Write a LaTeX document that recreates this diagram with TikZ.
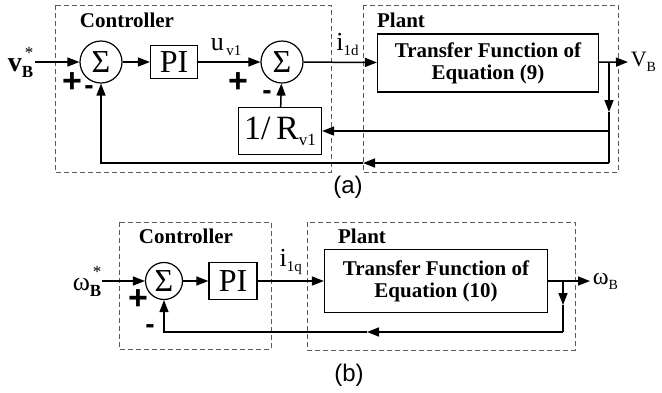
\documentclass[tikz,border=0pt]{standalone}
\usepackage{fontspec}
\setmainfont{Liberation Serif}
\newfontfamily\arialfont{Liberation Sans}
\usetikzlibrary{arrows.meta, positioning}

\newcommand{\fsz}[1]{\fontsize{#1}{#1}\selectfont}

\begin{document}
\begin{tikzpicture}[x=1pt, y=-1pt, line width=1.5pt,
    sumnode/.style={circle, draw, line width=1.2pt, minimum size=42pt, inner sep=0pt, font=\fsz{32}},
    block/.style={rectangle, draw, line width=1.2pt, align=center, inner sep=0pt},
    group/.style={draw=black!65, line width=0.9pt, dash pattern=on 5pt off 3pt},
    arrow/.style={-{Triangle[length=12pt, width=9pt]}},
    title/.style={font=\bfseries\fsz{21}},
    plus/.style={font=\arialfont\bfseries\fsz{34}, inner sep=0pt, text height=20pt, text depth=0pt},
    minus/.style={font=\arialfont\bfseries\fsz{28}, inner sep=0pt, text height=13pt, text depth=0pt},
    lbl/.style={inner sep=0pt}
  ]
    \useasboundingbox (0,0) rectangle (662,392);

    % (a) voltage loop
    \draw[group] (55,5) rectangle (331,172);
    \draw[group] (363,5) rectangle (618,172);
    \node[title] (ctrlA) at (127,20) {Controller};
    \node[title] (plantA) at (401,20) {Plant};

    \node[sumnode] (sumA1) at (101,62) {Σ};
    \node[block, minimum width=47pt, minimum height=33pt, font=\fsz{32}] (piA) at (174,62) {PI};
    \node[sumnode] (sumA2) at (282,62) {Σ};
    \node[block, minimum width=221pt, minimum height=58pt, font=\bfseries\fsz{21}] (tfA) at (488,63) {Transfer Function of\\[1pt]Equation (9)};
    \node[block, minimum width=83pt, minimum height=47pt] (rA) at (280,131) {{\fsz{34}1/\,R}\raisebox{-6pt}{\fsz{17}v1}};

    \coordinate (inA) at (35,62);
    \coordinate (brA) at (609,62);
    \coordinate (outA) at (628,62);
    \coordinate (dnA) at (609,112);
    \coordinate (fbA) at (609,131);
    \coordinate (btA) at (609,163);
    \coordinate (midA) at (363,163);
    \node[lbl, left=1pt of inA] (refA) {{\fsz{28}\bfseries v}\raisebox{-6pt}{\fsz{17}\bfseries B}\llap{\raisebox{13pt}{\fsz{17}*}}};
    \node[lbl, right=2pt of outA] (yA) {{\fsz{22}V}\raisebox{-5pt}{\fsz{14}B}};

    \draw[arrow] (inA) -- (sumA1);
    \draw[arrow] (sumA1) -- (piA);
    \draw[arrow] (piA) -- node[lbl, above=6pt, pos=0.45] (uA) {{\fsz{26}u}\raisebox{-5pt}{\fsz{15}\,v1}} (sumA2);
    \draw[arrow] (sumA2) -- node[lbl, above=6pt, pos=0.6] (iA) {{\fsz{26}i}\raisebox{-5pt}{\fsz{15}1d}} (tfA);
    \draw[arrow] (tfA) -- (outA);
    \draw[arrow] (brA) -- (dnA);
    \draw (dnA) -- (btA);
    \draw[arrow] (fbA) -- (rA);
    \draw[arrow] (rA) -- (sumA2);
    \draw[arrow] (btA) -- (midA);
    \draw[arrow] (midA) -| (sumA1);

    \node[plus] (pA1) at (72,82) {+};
    \node[minus] (mA1) at (89,88) {-};
    \node[plus] (pA2) at (238,82) {+};
    \node[minus] (mA2) at (267,93) {-};
    \node[font=\arialfont\fsz{24}] (capA) at (348,187) {(a)};

    % (b) speed loop
    \draw[group] (119,222) rectangle (271,349);
    \draw[group] (307,222) rectangle (575,350);
    \node[title] (ctrlB) at (186,236) {Controller};
    \node[title] (plantB) at (362,236) {Plant};

    \node[sumnode, minimum size=37pt] (sumB) at (164,281) {Σ};
    \node[block, minimum width=48pt, minimum height=37pt, font=\fsz{32}] (piB) at (233,281) {PI};
    \node[block, minimum width=223pt, minimum height=63pt, font=\bfseries\fsz{21}] (tfB) at (436,281) {Transfer Function of\\[1pt]Equation (10)};

    \coordinate (inB) at (102,281);
    \coordinate (brB) at (563,281);
    \coordinate (outB) at (590,281);
    \coordinate (dnB) at (563,305);
    \coordinate (btB) at (563,332);
    \coordinate (midB) at (367,332);
    \node[lbl, left=0pt of inB] (refB) {{\fsz{26}ω}\raisebox{-6pt}{\fsz{17}\bfseries B}\llap{\raisebox{13pt}{\fsz{17}*}}};
    \node[lbl, right=2pt of outB] (yB) {{\fsz{24}ω}\raisebox{-5pt}{\fsz{14}B}};

    \draw[arrow] (inB) -- (sumB);
    \draw[arrow] (sumB) -- (piB);
    \draw[arrow] (piB) -- node[lbl, above=6pt, pos=0.5] (iB) {{\fsz{26}i}\raisebox{-5pt}{\fsz{15}1q}} (tfB);
    \draw[arrow] (tfB) -- (outB);
    \draw[arrow] (brB) -- (dnB);
    \draw (dnB) -- (btB);
    \draw[arrow] (btB) -- (midB);
    \draw[arrow] (midB) -| (sumB);

    \node[plus] (pB) at (138,299) {+};
    \node[minus] (mB) at (150,327) {-};
    \node[font=\arialfont\fsz{24}] (capB) at (349,375) {(b)};
\end{tikzpicture}
\end{document}
